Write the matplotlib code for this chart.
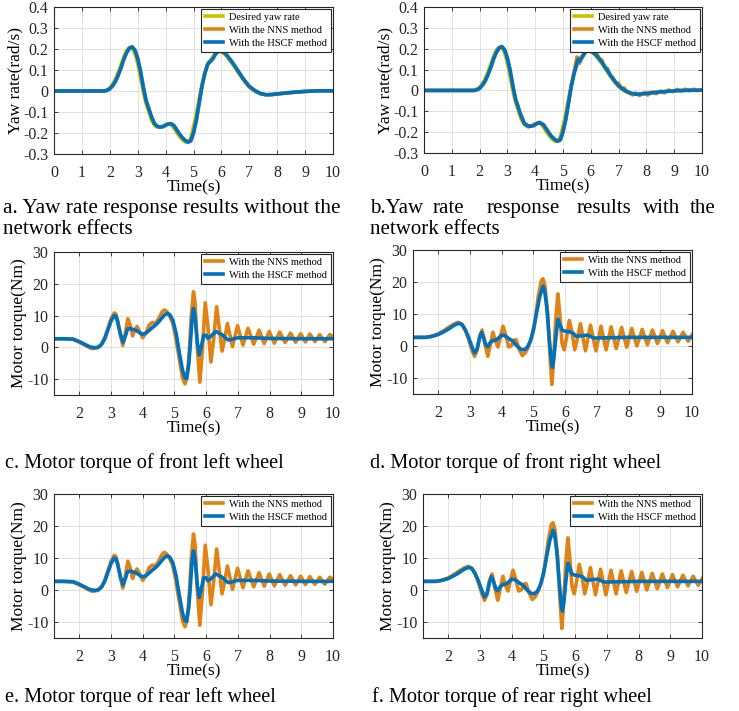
import matplotlib
matplotlib.use("Agg")
import matplotlib.pyplot as plt

plt.rcParams['font.family'] = ['Liberation Serif', 'DejaVu Serif']
plt.rcParams['axes.unicode_minus'] = False

# ---------------- data: yaw rate ----------------
t_yaw = [0, 1.5, 1.8, 1.9, 2.0, 2.1, 2.2, 2.3, 2.4, 2.5, 2.6, 2.7, 2.8, 2.9, 3.0, 3.1, 3.2, 3.3,
         3.4, 3.5, 3.6, 3.7, 3.8, 3.9, 4.0, 4.1, 4.2, 4.3, 4.4, 4.5, 4.6, 4.7, 4.8, 4.9, 5.0, 5.1,
         5.2, 5.3, 5.4, 5.5, 5.55, 5.6, 5.7, 5.8, 5.9, 6.0, 6.1, 6.2, 6.4, 6.6, 6.8, 7.0, 7.2,
         7.4, 7.6, 7.8, 8.0, 8.5, 9.0, 9.5, 10.0]
desired_yaw = [0, 0, 0, 0.006, 0.015, 0.032, 0.056, 0.088, 0.125, 0.163, 0.193, 0.208, 0.205,
               0.18, 0.13, 0.065, -0.005, -0.06, -0.1, -0.14, -0.163, -0.172, -0.172, -0.168,
               -0.16, -0.156, -0.16, -0.177, -0.198, -0.217, -0.232, -0.243, -0.245, -0.225,
               -0.17, -0.11, -0.04, 0.03, 0.085, 0.12, 0.135, 0.145, 0.165, 0.182, 0.188, 0.186,
               0.177, 0.163, 0.128, 0.088, 0.05, 0.018, -0.002, -0.014, -0.018, -0.017, -0.014,
               -0.007, -0.002, 0.001, 0.001]
hscf_yaw_a = [0, 0, 0, 0.003, 0.01, 0.025, 0.045, 0.075, 0.11, 0.15, 0.182, 0.203, 0.21, 0.195,
              0.155, 0.095, 0.02, -0.045, -0.085, -0.125, -0.155, -0.168, -0.172, -0.17, -0.163,
              -0.157, -0.156, -0.165, -0.185, -0.205, -0.222, -0.235, -0.243, -0.238, -0.2,
              -0.14, -0.06, 0.02, 0.08, 0.125, 0.135, 0.14, 0.155, 0.178, 0.19, 0.19, 0.183,
              0.17, 0.135, 0.095, 0.055, 0.022, 0.002, -0.012, -0.018, -0.017, -0.014, -0.007,
              -0.002, 0.001, 0.001]
nns_yaw_a = [0, 0, 0, 0.003, 0.01, 0.025, 0.045, 0.075, 0.11, 0.15, 0.182, 0.203, 0.21, 0.195,
             0.155, 0.095, 0.02, -0.045, -0.085, -0.125, -0.155, -0.168, -0.172, -0.17, -0.163,
             -0.157, -0.156, -0.165, -0.185, -0.205, -0.222, -0.235, -0.243, -0.238, -0.2,
             -0.14, -0.06, 0.02, 0.08, 0.125, 0.135, 0.14, 0.155, 0.178, 0.19, 0.19, 0.183,
             0.17, 0.135, 0.095, 0.055, 0.022, 0.002, -0.012, -0.018, -0.017, -0.014, -0.007,
             -0.002, 0.001, 0.001]
hscf_yaw_b = [0, 0, 0, 0.003, 0.01, 0.025, 0.045, 0.075, 0.11, 0.15, 0.182, 0.203, 0.21, 0.195,
              0.155, 0.095, 0.02, -0.045, -0.085, -0.125, -0.155, -0.168, -0.172, -0.17, -0.163,
              -0.157, -0.156, -0.165, -0.185, -0.205, -0.222, -0.235, -0.243, -0.238, -0.2,
              -0.14, -0.06, 0.02, 0.08, 0.13, 0.15, 0.14, 0.16, 0.185, 0.195, 0.19, 0.18,
              0.168, 0.135, 0.095, 0.055, 0.022, 0.002, -0.012, -0.018, -0.017, -0.014, -0.007,
              -0.002, 0.001, 0.001]
t_nns_b = [0, 1.5, 1.8, 1.9, 2.0, 2.1, 2.2, 2.3, 2.4, 2.5, 2.6, 2.7, 2.8, 2.9, 3.0, 3.1, 3.2,
           3.3, 3.35, 3.4, 3.45, 3.5, 3.55, 3.6, 3.65, 3.7, 3.75, 3.8, 3.9, 3.95, 4.0, 4.1, 4.15,
           4.2, 4.3, 4.4, 4.5, 4.6, 4.7, 4.8, 4.9, 5.0, 5.1, 5.2, 5.3, 5.4, 5.5, 5.55, 5.6, 5.65,
           5.7, 5.8, 5.9, 5.95, 6.0, 6.1, 6.15, 6.2, 6.3, 6.4, 6.5, 6.6, 6.7, 6.8, 6.9, 7.0,
           7.1, 7.2, 7.3, 7.4, 7.5, 7.6, 7.75, 7.9, 8.05, 8.2, 8.35, 8.5, 8.65, 8.8, 8.95, 9.1,
           9.25, 9.4, 9.55, 9.7, 9.85, 10.0]
nns_yaw_b = [0, 0, 0, 0.003, 0.01, 0.025, 0.045, 0.075, 0.11, 0.15, 0.182, 0.203, 0.21, 0.195,
             0.155, 0.095, 0.02, -0.05, -0.06, -0.085, -0.11, -0.12, -0.135, -0.16, -0.165,
             -0.163, -0.175, -0.172, -0.168, -0.17, -0.165, -0.155, -0.152, -0.158, -0.165,
             -0.185, -0.205, -0.222, -0.235, -0.243, -0.235, -0.195, -0.135, -0.055, 0.025,
             0.09, 0.16, 0.155, 0.13, 0.16, 0.165, 0.18, 0.2, 0.205, 0.185, 0.19, 0.175, 0.18,
             0.155, 0.145, 0.11, 0.105, 0.07, 0.06, 0.035, 0.035, 0.01, 0.012, -0.008, -0.01,
             -0.022, -0.012, -0.025, -0.012, -0.022, -0.008, -0.016, -0.003, -0.012, 0.002,
             -0.006, 0.005, -0.003, 0.006, -0.002, 0.006, -0.001, 0.004]

# ---------------- data: motor torque, left wheels ----------------
t_hscf_left = [1.2, 1.5, 1.8, 2.0, 2.1, 2.2, 2.3, 2.4, 2.5, 2.6, 2.7, 2.8, 2.9, 3.0, 3.1, 3.15,
               3.2, 3.3, 3.38, 3.45, 3.52, 3.6, 3.7, 3.8, 3.9, 4.0, 4.1, 4.2, 4.3, 4.4, 4.5,
               4.6, 4.7, 4.78, 4.85, 4.95, 5.05, 5.15, 5.25, 5.33, 5.38, 5.45, 5.5, 5.55, 5.6,
               5.65, 5.72, 5.78, 5.85, 5.92, 6.0, 6.05, 6.15, 6.3, 6.4, 6.5, 6.6, 6.7, 6.8,
               6.9, 7.0, 7.5, 8.0, 9.0, 10.0]
hscf_left = [2.7, 2.7, 2.6, 1.8, 1.3, 0.8, 0.3, 0.0, -0.1, 0.1, 0.9, 2.7, 5.5, 8.3, 10.0, 9.8,
             8.3, 4.0, 1.6, 3.5, 5.8, 5.9, 5.6, 5.3, 4.6, 4.1, 4.5, 5.3, 6.2, 7.0, 8.0, 9.2,
             10.3, 10.7, 10.3, 8.5, 4.5, -1.5, -7.0, -9.6, -9.8, -5.5, 1.0, 8.5, 12.2, 9.5,
             1.5, -2.4, 0.5, 3.8, 3.8, 2.9, 3.5, 5.0, 4.5, 4.0, 3.0, 2.3, 2.5, 2.8, 3.0, 3.0,
             2.8, 2.7, 2.7]
t_nns_left = [1.2, 1.5, 1.8, 2.0, 2.2, 2.3, 2.4, 2.5, 2.6, 2.7, 2.8, 2.9, 3.0, 3.1, 3.15, 3.2,
              3.3, 3.37, 3.45, 3.53, 3.6, 3.68, 3.75, 3.82, 3.9, 4.0, 4.1, 4.2, 4.3, 4.4, 4.5,
              4.6, 4.68, 4.75, 4.85, 4.95, 5.05, 5.15, 5.25, 5.33, 5.4, 5.47, 5.53, 5.6, 5.65,
              5.72, 5.8, 5.88, 5.97, 6.05, 6.15, 6.24, 6.33, 6.42, 6.5, 6.58, 6.67, 6.83, 6.99,
              7.16, 7.32, 7.5, 7.67, 7.83, 7.99, 8.15, 8.32, 8.49, 8.66, 8.82, 8.98, 9.13, 9.27,
              9.43, 9.58, 9.74, 9.9, 10.0]
nns_left = [2.7, 2.7, 2.5, 1.6, 0.6, 0.0, -0.4, -0.3, 0.0, 1.0, 3.0, 6.0, 9.0, 10.8, 10.5, 8.8,
            3.5, 0.6, 4.5, 9.0, 7.0, 3.6, 5.5, 6.6, 5.0, 3.0, 4.5, 7.0, 7.8, 7.5, 9.0, 11.0,
            11.8, 11.3, 9.8, 7.5, 2.5, -3.5, -9.5, -11.5, -9.5, -1.0, 10.0, 17.5, 14.0, 0.0,
            -11.0, -1.0, 14.0, 7.0, -4.6, 3.0, 12.8, 5.5, -1.2, 2.5, 7.5, 0.2, 6.8, 0.7, 6.0,
            1.0, 5.4, 1.2, 5.0, 1.3, 4.8, 1.5, 4.5, 1.6, 4.3, 1.7, 4.2, 1.8, 4.0, 1.8, 4.0, 3.2]

# ---------------- data: motor torque, right wheels ----------------
t_hscf_right = [1.2, 1.6, 1.8, 2.0, 2.2, 2.35, 2.5, 2.65, 2.75, 2.85, 2.95, 3.05, 3.14, 3.22,
                3.3, 3.36, 3.42, 3.5, 3.56, 3.63, 3.72, 3.82, 3.9, 4.0, 4.1, 4.2, 4.35, 4.5,
                4.6, 4.7, 4.8, 4.9, 5.0, 5.1, 5.2, 5.3, 5.35, 5.42, 5.5, 5.57, 5.6, 5.65, 5.72,
                5.77, 5.82, 5.9, 6.0, 6.15, 6.25, 6.35, 6.5, 6.7, 6.8, 6.9, 7.0, 8.0, 10.0]
hscf_right = [2.7, 2.7, 3.0, 3.6, 4.6, 5.5, 6.5, 7.1, 6.6, 5.0, 2.8, 0.0, -2.2, -1.0, 2.5, 4.2,
              2.8, 0.3, -0.2, 1.0, 1.7, 1.9, 2.5, 3.4, 3.2, 2.5, 1.5, -0.2, -1.0, -1.2, -0.5,
              1.5, 5.0, 10.5, 15.5, 18.7, 17.5, 12.0, 2.0, -5.5, -6.6, -3.0, 4.0, 8.4, 7.0,
              5.0, 4.6, 4.4, 4.0, 3.0, 3.2, 3.4, 3.0, 2.5, 2.5, 2.7, 2.7]
t_nns_right = [1.2, 1.6, 1.8, 2.0, 2.2, 2.35, 2.5, 2.62, 2.75, 2.85, 2.95, 3.05, 3.14, 3.22,
               3.3, 3.38, 3.46, 3.56, 3.64, 3.72, 3.8, 3.88, 3.96, 4.04, 4.12, 4.22, 4.3, 4.38,
               4.45, 4.55, 4.65, 4.75, 4.85, 4.95, 5.05, 5.15, 5.25, 5.3, 5.36, 5.45, 5.52,
               5.58, 5.63, 5.7, 5.77, 5.83, 5.9, 5.97, 6.05, 6.13, 6.22, 6.3, 6.38, 6.48, 6.64,
               6.8, 6.97, 7.13, 7.29, 7.45, 7.61, 7.78, 7.94, 8.1, 8.26, 8.43, 8.59, 8.75, 8.91,
               9.07, 9.23, 9.4, 9.56, 9.72, 9.88, 10.0]
nns_right = [2.7, 2.7, 3.1, 3.8, 5.0, 6.0, 6.9, 7.4, 6.8, 5.0, 2.2, -1.0, -3.2, -1.5, 3.0, 5.0,
             1.0, -3.2, 0.5, 4.3, 1.5, -0.3, 3.0, 6.2, 3.5, -0.3, 0.0, 1.8, 2.0, -1.0, -3.0,
             -2.0, 0.0, 3.0, 8.0, 15.5, 20.5, 21.0, 19.0, 10.0, -3.0, -12.0, -5.0, 8.0, 16.3,
             10.0, 1.0, -1.2, 3.0, 8.0, 4.0, -1.2, 2.0, 7.0, -1.5, 6.5, -1.5, 6.2, -1.2, 6.0,
             -0.8, 5.8, -0.4, 5.5, 0.0, 5.2, 0.4, 5.0, 0.8, 4.8, 1.0, 4.6, 1.3, 4.3, 1.5, 3.5]

yaw_yticks = [-0.3, -0.2, -0.1, 0, 0.1, 0.2, 0.3, 0.4]
yaw_ylabels = ['-0.3', '-0.2', '-0.1', '0', '0.1', '0.2', '0.3', '0.4']
torque_yticks = [-10, 0, 10, 20, 30]
caption_a1 = 'a. Yaw rate response results without the'
caption_b1 = ['b.Yaw', 'rate', 'response', 'results', 'with', 'the']
caption_2 = 'network effects'
captions = {
    'c': 'c. Motor torque of front left wheel',
    'd': 'd. Motor torque of front right wheel',
    'e': 'e. Motor torque of rear left wheel',
    'f': 'f. Motor torque of rear right wheel',
}

C_DES = '#c8c100'
C_NNS = '#e08214'
C_HSCF = '#0072bd'
LW = 2.6

W, H = 739, 711
fig = plt.figure(figsize=(W / 100, H / 100), dpi=100)


def make_ax(l, r, t, b):
    ax = fig.add_axes([l / W, 1 - b / H, (r - l) / W, (b - t) / H])
    ax.grid(True, color='#dcdcdc', lw=0.6)
    ax.set_axisbelow(True)
    for s in ax.spines.values():
        s.set_color('#262626')
        s.set_linewidth(0.8)
    ax.tick_params(direction='in', length=3, width=0.6, labelsize=11.5,
                   top=True, right=True, colors='#262626')
    ax.tick_params(axis='x', pad=8)
    ax.tick_params(axis='y', pad=4)
    ax.set_xlabel('Time(s)', fontsize=12.5, labelpad=-1)
    return ax


def legend(ax, fs=7.6):
    lg = ax.legend(loc='upper right', fontsize=fs, frameon=True, fancybox=False,
                   framealpha=1, edgecolor='#262626', borderaxespad=0.15,
                   handlelength=1.7, labelspacing=0.35, borderpad=0.4, handletextpad=0.6)
    lg.get_frame().set_linewidth(0.8)


def yaw_panel(ax, nns_t, nns_v, hscf_v):
    ax.plot(t_yaw, desired_yaw, color=C_DES, lw=LW, label='Desired yaw rate')
    ax.plot(nns_t, nns_v, color=C_NNS, lw=LW, label='With the NNS method')
    ax.plot(t_yaw, hscf_v, color=C_HSCF, lw=LW, label='With the HSCF method')
    ax.set_xlim(0, 10)
    ax.set_ylim(-0.3, 0.4)
    ax.set_xticks(range(0, 11))
    ax.set_yticks(yaw_yticks)
    ax.set_yticklabels(yaw_ylabels)
    ax.set_ylabel('Yaw rate(rad/s)', fontsize=12.5, labelpad=0)
    legend(ax, 7.5)


def torque_panel(ax, tn, vn, th, vh):
    ax.plot(tn, vn, color=C_NNS, lw=LW, label='With the NNS method')
    ax.plot(th, vh, color=C_HSCF, lw=LW, label='With the HSCF method')
    ax.set_xlim(1.2, 10)
    ax.set_ylim(-15, 30)
    ax.set_xticks(range(2, 11))
    ax.set_yticks(torque_yticks)
    ax.set_ylabel('Motor torque(Nm)', fontsize=12.5, labelpad=0)
    legend(ax, 7.5)


ax_a = make_ax(54, 333, 7, 154)
yaw_panel(ax_a, t_yaw, nns_yaw_a, hscf_yaw_a)
ax_b = make_ax(424, 702, 7, 153)
yaw_panel(ax_b, t_nns_b, nns_yaw_b, hscf_yaw_b)

ax_c = make_ax(54, 333, 252, 395)
torque_panel(ax_c, t_nns_left, nns_left, t_hscf_left, hscf_left)
ax_d = make_ax(413, 692, 250, 394)
torque_panel(ax_d, t_nns_right, nns_right, t_hscf_right, hscf_right)
ax_e = make_ax(54, 333, 494, 638)
torque_panel(ax_e, t_nns_left, nns_left, t_hscf_left, hscf_left)
ax_f = make_ax(423, 702, 494, 638)
torque_panel(ax_f, t_nns_right, nns_right, t_hscf_right, hscf_right)

CFS = 14.6


def ftext(x, y, s, fs=CFS):
    fig.text(x / W, 1 - y / H, s, fontsize=fs, ha='left', va='center')


ftext(3, 208, caption_a1, fs=15.3)
ftext(3, 229, caption_2, fs=15.0)
for x, w in zip([370, 433, 487, 577, 643, 690], caption_b1):
    ftext(x, 208, w, fs=15.0)
ftext(370, 229, caption_2, fs=15.0)
ftext(5, 463, captions['c'])
ftext(370, 463, captions['d'])
ftext(5, 697, captions['e'])
ftext(372, 697, captions['f'])

fig.savefig('out.png', dpi=100)
